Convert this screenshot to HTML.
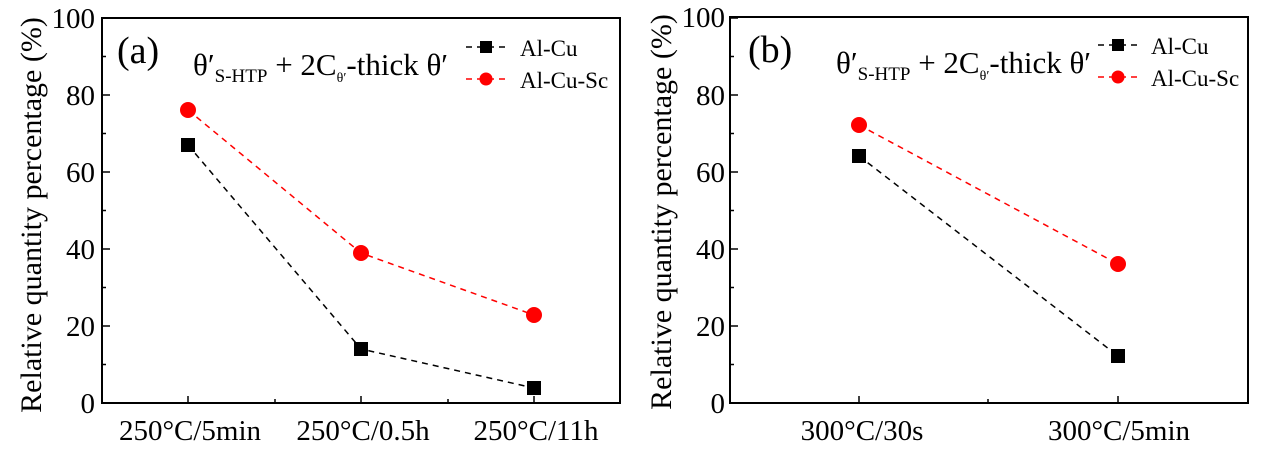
<!DOCTYPE html>
<html><head><meta charset="utf-8"><style>
body{margin:0;background:#fff;}
svg{display:block;font-family:"Liberation Serif",serif;}
</style></head><body>
<svg width="1268" height="451" viewBox="0 0 1268 451" xmlns="http://www.w3.org/2000/svg">
<!-- Panel A -->
<g>
<rect x="102" y="18" width="518" height="385" fill="none" stroke="#000" stroke-width="2"/>
<g stroke="#000" stroke-width="1.5">
<line x1="102" y1="403" x2="110" y2="403"/><line x1="102" y1="326" x2="110" y2="326"/><line x1="102" y1="249" x2="110" y2="249"/><line x1="102" y1="172" x2="110" y2="172"/><line x1="102" y1="95" x2="110" y2="95"/><line x1="102" y1="18" x2="110" y2="18"/>
<line x1="102" y1="364.5" x2="106" y2="364.5"/><line x1="102" y1="287.5" x2="106" y2="287.5"/><line x1="102" y1="210.5" x2="106" y2="210.5"/><line x1="102" y1="133.5" x2="106" y2="133.5"/><line x1="102" y1="56.5" x2="106" y2="56.5"/>
<line x1="188" y1="403" x2="188" y2="396"/><line x1="361" y1="403" x2="361" y2="396"/><line x1="534" y1="403" x2="534" y2="396"/>
<line x1="275" y1="403" x2="275" y2="399"/><line x1="448" y1="403" x2="448" y2="399"/>
</g>
<g font-size="29" text-anchor="end">
<text x="95" y="413">0</text><text x="95" y="336">20</text><text x="95" y="259">40</text><text x="95" y="182">60</text><text x="95" y="105">80</text><text x="95" y="28">100</text>
</g>
<g font-size="29" text-anchor="middle">
<text x="190" y="440">250°C/5min</text><text x="363" y="440">250°C/0.5h</text><text x="536" y="440">250°C/11h</text>
</g>
<text transform="translate(41,215) rotate(-90)" font-size="30" text-anchor="middle">Relative quantity percentage (%)</text>
<text x="117" y="63" font-size="38">(a)</text>
<text x="193" y="75" font-size="31">θ′<tspan font-size="19" dy="7">S-HTP</tspan><tspan dy="-7"> + 2C</tspan><tspan font-size="14" dy="7">θ′</tspan><tspan dy="-7">-thick θ′</tspan></text>
<polyline points="188,145 361,349 534,388" fill="none" stroke="#000" stroke-width="1.5" stroke-dasharray="6,5"/>
<polyline points="188,110 361,253 534,315" fill="none" stroke="#f00" stroke-width="1.5" stroke-dasharray="6,5"/>
<rect x="181" y="138" width="14" height="14"/><rect x="354" y="342" width="14" height="14"/><rect x="527" y="381" width="14" height="14"/>
<circle cx="188" cy="110" r="8" fill="#f00"/><circle cx="361" cy="253" r="8" fill="#f00"/><circle cx="534" cy="315" r="8" fill="#f00"/>
<line x1="466" y1="47" x2="507" y2="47" stroke="#000" stroke-width="1.5" stroke-dasharray="6,5"/>
<rect x="480" y="41" width="12" height="12"/>
<line x1="466" y1="79" x2="507" y2="79" stroke="#f00" stroke-width="1.5" stroke-dasharray="6,5"/>
<circle cx="486" cy="79" r="6.5" fill="#f00"/>
<text x="520" y="56" font-size="23">Al-Cu</text><text x="520" y="88" font-size="23">Al-Cu-Sc</text>
</g>
<!-- Panel B -->
<g>
<rect x="730" y="17" width="518" height="386" fill="none" stroke="#000" stroke-width="2"/>
<g stroke="#000" stroke-width="1.5">
<line x1="730" y1="403" x2="738" y2="403"/><line x1="730" y1="326" x2="738" y2="326"/><line x1="730" y1="249" x2="738" y2="249"/><line x1="730" y1="172" x2="738" y2="172"/><line x1="730" y1="95" x2="738" y2="95"/><line x1="730" y1="18" x2="738" y2="18"/>
<line x1="730" y1="364.5" x2="734" y2="364.5"/><line x1="730" y1="287.5" x2="734" y2="287.5"/><line x1="730" y1="210.5" x2="734" y2="210.5"/><line x1="730" y1="133.5" x2="734" y2="133.5"/><line x1="730" y1="56.5" x2="734" y2="56.5"/>
<line x1="859" y1="403" x2="859" y2="396"/><line x1="1118" y1="403" x2="1118" y2="396"/><line x1="988" y1="403" x2="988" y2="399"/>
</g>
<g font-size="29" text-anchor="end">
<text x="725" y="413">0</text><text x="725" y="336">20</text><text x="725" y="259">40</text><text x="725" y="182">60</text><text x="725" y="105">80</text><text x="725" y="27">100</text>
</g>
<g font-size="29" text-anchor="middle">
<text x="862" y="440">300°C/30s</text><text x="1119" y="440">300°C/5min</text>
</g>
<text transform="translate(671,212) rotate(-90)" font-size="30" text-anchor="middle">Relative quantity percentage (%)</text>
<text x="748" y="62" font-size="38">(b)</text>
<text x="836" y="73" font-size="31">θ′<tspan font-size="19" dy="7">S-HTP</tspan><tspan dy="-7"> + 2C</tspan><tspan font-size="14" dy="7">θ′</tspan><tspan dy="-7">-thick θ′</tspan></text>
<polyline points="859,156 1118,356" fill="none" stroke="#000" stroke-width="1.5" stroke-dasharray="6,5"/>
<polyline points="859,125 1118,264" fill="none" stroke="#f00" stroke-width="1.5" stroke-dasharray="6,5"/>
<rect x="852" y="149" width="14" height="14"/><rect x="1111" y="349" width="14" height="14"/>
<circle cx="859" cy="125" r="8" fill="#f00"/><circle cx="1118" cy="264" r="8" fill="#f00"/>
<line x1="1098" y1="45" x2="1139" y2="45" stroke="#000" stroke-width="1.5" stroke-dasharray="6,5"/>
<rect x="1112" y="39" width="12" height="12"/>
<line x1="1098" y1="77" x2="1139" y2="77" stroke="#f00" stroke-width="1.5" stroke-dasharray="6,5"/>
<circle cx="1118" cy="77" r="6.5" fill="#f00"/>
<text x="1151" y="54" font-size="23">Al-Cu</text><text x="1151" y="86" font-size="23">Al-Cu-Sc</text>
</g>
</svg>
</body></html>
